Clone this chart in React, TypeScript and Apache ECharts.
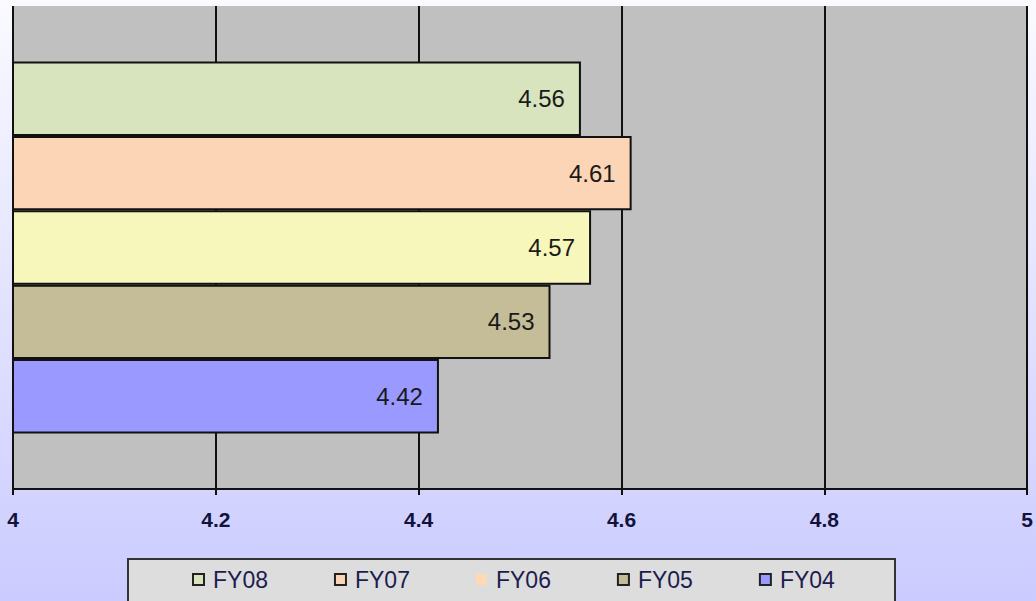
import React, { useEffect, useRef } from "react";
import * as echarts from "echarts";

const seriesNames = ["FY08", "FY07", "FY06", "FY05", "FY04"];
const seriesValues = [4.56, 4.61, 4.57, 4.53, 4.42];
const seriesColors = ["#D7E4BD", "#FBD5B5", "#F7F7BB", "#C4BD97", "#9999FF"];
const xTicks = [4, 4.2, 4.4, 4.6, 4.8, 5];
const categories = [""];

export default function App() {
  const ref = useRef<HTMLDivElement>(null);
  useEffect(() => {
    if (!ref.current) return;
    const chart = echarts.init(ref.current, null, { renderer: "svg" });
    const series = seriesNames.map((name, i) => ({
      name,
      type: "bar",
      data: [seriesValues[i]],
      barGap: "0%",
      barCategoryGap: "23%",
      itemStyle: { color: seriesColors[i], borderColor: "#111", borderWidth: 2 },
      label: {
        show: true,
        position: "insideRight",
        distance: 16,
        fontSize: 24,
        fontFamily: "Arial, Liberation Sans, sans-serif",
        color: "#1a1a1a",
        formatter: (p: any) => p.value.toFixed(2),
      },
    }));
    chart.setOption({
      animation: false,
      backgroundColor: new echarts.graphic.LinearGradient(0, 0, 0, 1, [
        { offset: 0, color: "#FAFAFF" },
        { offset: 1, color: "#CBCBFF" },
      ]),
      grid: {
        left: 13,
        right: 4,
        top: 6,
        bottom: 112,
        show: true,
        backgroundColor: "#C0C0C0",
        borderWidth: 0,
      },
      xAxis: {
        type: "value",
        min: xTicks[0],
        max: xTicks[xTicks.length - 1],
        interval: 0.2,
        axisLine: { show: true, lineStyle: { color: "#111", width: 2 } },
        axisTick: { show: true, length: 6, lineStyle: { color: "#111", width: 2 } },
        splitLine: { show: true, lineStyle: { color: "#111", width: 2 } },
        axisLabel: {
          margin: 20,
          fontSize: 21,
          fontWeight: "bold",
          fontFamily: "Arial, Liberation Sans, sans-serif",
          color: "#12123A",
          formatter: (v: number) => String(parseFloat(v.toFixed(1))),
        },
      },
      yAxis: {
        type: "category",
        data: categories,
        inverse: true,
        axisLine: { show: false },
        axisTick: { show: false },
        axisLabel: { show: false },
      },
      graphic: [
        {
          type: "rect",
          left: 127,
          top: 558,
          shape: { width: 767, height: 60 },
          style: { fill: "#DDDDDD", stroke: "#333", lineWidth: 2 },
          z: 5,
        },
      ],
      legend: {
        left: 192,
        top: 568,
        z: 10,
        icon: "rect",
        itemWidth: 11,
        itemHeight: 11,
        itemGap: 66,
        padding: 0,
        textStyle: {
          fontSize: 23,
          fontFamily: "Arial, Liberation Sans, sans-serif",
          color: "#1C1C50",
          padding: [0, 0, 0, 4],
        },
        data: seriesNames.map((name, i) => ({
          name,
          itemStyle:
            name === "FY06"
              ? { color: "#FFD9B3", borderWidth: 0 }
              : { color: seriesColors[i], borderColor: "#222", borderWidth: 2 },
        })),
      },
      series,
    });
    return () => chart.dispose();
  }, []);
  return (
    <div
      ref={ref}
      style={{ position: "fixed", left: 0, top: 0, width: 1036, height: 601 }}
    />
  );
}
